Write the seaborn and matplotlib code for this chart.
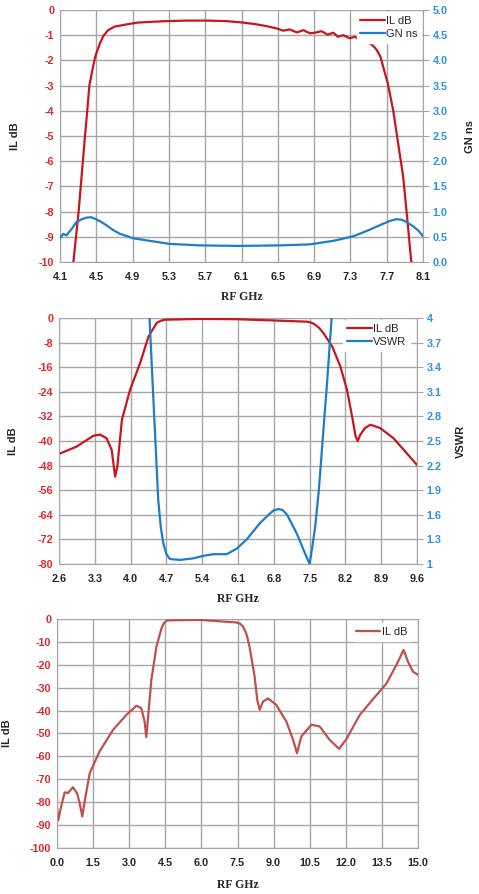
import numpy as np
import matplotlib
matplotlib.use('Agg')
import matplotlib.pyplot as plt
import seaborn as sns

# --- chart 1: insertion loss + group delay (4.1 - 8.1 GHz)
freq_il1 = [4.247, 4.276, 4.305, 4.34, 4.375, 4.40, 4.423, 4.45, 4.478, 4.50, 4.54, 4.577,
            4.63, 4.70, 4.834, 4.954, 5.10, 5.274, 5.50, 5.715, 5.935, 6.118, 6.25, 6.375,
            6.485, 6.56, 6.63, 6.71, 6.78, 6.85, 6.91, 6.98, 7.05, 7.11, 7.16, 7.22, 7.29,
            7.35, 7.38, 7.44, 7.51, 7.55, 7.59, 7.63, 7.66, 7.71, 7.77, 7.82, 7.88, 7.92, 7.97]
il1 = [-10.0, -9.0, -8.0, -6.5, -5.0, -4.0, -3.0, -2.5, -2.0, -1.72, -1.32, -1.03,
       -0.80, -0.66, -0.57, -0.50, -0.47, -0.44, -0.42, -0.42, -0.44, -0.50, -0.56, -0.64,
       -0.73, -0.82, -0.77, -0.89, -0.80, -0.92, -0.90, -0.84, -0.98, -0.90, -1.06, -1.00,
       -1.12, -1.06, -1.13, -1.22, -1.32, -1.42, -1.59, -1.85, -2.25, -2.9, -3.97, -5.17,
       -6.6, -8.08, -10.0]

freq_gd1 = [4.10, 4.137, 4.17, 4.23, 4.28, 4.34, 4.39, 4.44, 4.485, 4.55, 4.61, 4.68, 4.76,
            4.91, 5.09, 5.31, 5.64, 6.08, 6.52, 6.85, 7.11, 7.33, 7.51, 7.66, 7.74, 7.81,
            7.86, 7.90, 7.99, 8.05, 8.10]
gd1 = [0.48, 0.56, 0.53, 0.66, 0.79, 0.85, 0.88, 0.89, 0.86, 0.80, 0.73, 0.64, 0.56,
       0.47, 0.42, 0.36, 0.33, 0.32, 0.33, 0.35, 0.42, 0.51, 0.64, 0.76, 0.82, 0.85,
       0.84, 0.81, 0.71, 0.62, 0.51]

# --- chart 2: insertion loss + VSWR (2.6 - 9.6 GHz)
freq_il2 = [2.6, 2.946, 3.27, 3.40, 3.53, 3.63, 3.696, 3.74, 3.83, 3.99, 4.185, 4.35,
            4.51, 4.59, 4.674, 5.36, 6.077, 6.79, 7.45, 7.55, 7.61, 7.69, 7.77, 7.94,
            8.10, 8.23, 8.33, 8.40, 8.44, 8.49, 8.58, 8.69, 8.88, 9.14, 9.40, 9.60]
il2 = [-44.2, -41.8, -38.3, -37.9, -39.1, -42.9, -51.6, -48.3, -33.1, -23.3, -14.7, -6.0,
       -1.6, -0.9, -0.55, -0.3, -0.4, -0.8, -1.2, -1.6, -2.2, -3.3, -4.9, -9.2,
       -15.7, -23.3, -32.0, -38.5, -40.0, -38.0, -35.8, -34.7, -35.8, -39.1, -44.0, -47.8]

freq_vswr2 = [4.37, 4.446, 4.50, 4.54, 4.59, 4.64, 4.70, 4.77, 4.97, 5.23, 5.42, 5.62,
              5.88, 6.08, 6.27, 6.53, 6.73, 6.80, 6.89, 6.97, 7.06, 7.25, 7.41, 7.50,
              7.55, 7.61, 7.68, 7.74, 7.79, 7.84, 7.93]
vswr2 = [4.0, 3.0, 2.3, 1.78, 1.45, 1.25, 1.12, 1.06, 1.05, 1.07, 1.10, 1.12,
         1.12, 1.19, 1.30, 1.50, 1.62, 1.655, 1.67, 1.66, 1.60, 1.37, 1.13, 1.0,
         1.2, 1.46, 1.9, 2.39, 2.8, 3.2, 4.0]

# --- chart 3: wideband insertion loss (0 - 15 GHz)
freq_il3 = [0.0, 0.055, 0.14, 0.32, 0.46, 0.55, 0.66, 0.83, 0.94, 1.05, 1.16, 1.36,
            1.77, 2.33, 2.88, 3.30, 3.50, 3.64, 3.71, 3.81, 3.92, 4.13, 4.34, 4.44, 4.54,
            4.62, 5.93, 7.45, 7.60, 7.73, 7.87, 8.0, 8.21, 8.32, 8.42, 8.56, 8.77, 9.11,
            9.53, 9.81, 9.97, 10.15, 10.57, 10.91, 11.33, 11.72, 12.02, 12.58, 13.13,
            13.68, 14.1, 14.40, 14.58, 14.79, 15.0]
il3 = [-82.6, -87.9, -83.3, -75.7, -76.0, -74.9, -73.5, -76.0, -80.4, -86.2, -79.0, -67.3,
       -57.8, -48.4, -41.9, -37.9, -38.9, -44.8, -51.6, -39.7, -26.6, -12.1, -4.1, -1.8, -0.9,
       -0.6, -0.4, -1.5, -2.0, -3.3, -6.5, -12.1, -25.1, -35.3, -39.7, -36.0, -34.7, -37.5,
       -44.8, -52.8, -58.6, -51.3, -46.2, -46.9, -52.8, -56.7, -52.5, -41.9, -35.0,
       -28.3, -20.1, -13.5, -18.6, -23.0, -24.4]

RED = '#C8161D'
BLUE = '#1C7DCA'
RED3 = '#C0504D'
TICK_RED = '#E0282E'
TICK_BLUE = '#2F92DC'
GRID = '#A6A6A6'

sns.set_style('white')
plt.rcParams['font.family'] = ['Liberation Sans', 'DejaVu Sans']
plt.rcParams['axes.unicode_minus'] = False

fig = plt.figure(figsize=(4.79, 8.94), dpi=100)

LEG = dict(frameon=True, facecolor='white', edgecolor='white', framealpha=1,
           fontsize=8, handlelength=2.2, handletextpad=0.1, borderaxespad=0.15,
           borderpad=0.35, labelspacing=0.3)


def style_axes(ax, xticks, yticks, xlim, ylim, xfmt):
    ax.set_xlim(*xlim)
    ax.set_ylim(*ylim)
    ax.set_xticks(xticks)
    ax.set_xticklabels([xfmt.format(v) for v in xticks])
    ax.set_yticks(yticks)
    ax.grid(True, color=GRID, linewidth=1.0)
    for s in ax.spines.values():
        s.set_visible(False)
    ax.spines['left'].set_visible(True)
    ax.spines['left'].set_color(GRID)
    ax.spines['bottom'].set_visible(True)
    ax.spines['bottom'].set_color(GRID)
    ax.tick_params(axis='x', length=4, color=GRID, labelsize=7.8, pad=3)
    ax.tick_params(axis='y', length=0, labelsize=7.8, labelcolor=TICK_RED, pad=4)
    for t in ax.get_xticklabels() + ax.get_yticklabels():
        t.set_fontweight('bold')
    ax.set_xlabel('RF GHz', fontsize=8.5, fontweight='bold', family='Liberation Serif')
    ax.set_ylabel('IL dB', fontsize=8, fontweight='bold')


def style_right(ax2, yticks, ylim, labels, label):
    ax2.set_ylim(*ylim)
    ax2.set_yticks(yticks)
    ax2.set_yticklabels(labels)
    ax2.grid(False)
    for s in ax2.spines.values():
        s.set_visible(False)
    ax2.spines['right'].set_visible(True)
    ax2.spines['right'].set_color(GRID)
    ax2.tick_params(axis='y', length=4, color=GRID, labelsize=7.8,
                    labelcolor=TICK_BLUE, pad=3)
    for t in ax2.get_yticklabels():
        t.set_fontweight('bold')
    ax2.set_ylabel(label, fontsize=8, fontweight='bold', rotation=90)


# chart 1
ax1 = fig.add_axes([0.1253, 0.7069, 0.758, 0.2819])
sns.lineplot(x=freq_il1, y=il1, ax=ax1, color=RED, linewidth=1.6, legend=False)
style_axes(ax1, np.round(np.arange(4.1, 8.15, 0.4), 1), range(-10, 1), (4.1, 8.1), (-10, 0), '{:.1f}')
ax1b = ax1.twinx()
sns.lineplot(x=freq_gd1, y=gd1, ax=ax1b, color=BLUE, linewidth=1.6, legend=False)
gd_ticks = np.arange(0, 5.01, 0.5)
style_right(ax1b, gd_ticks, (0, 5), ['{:.1f}'.format(v) for v in gd_ticks], 'GN ns')
ax1.yaxis.set_label_coords(-0.11, 0.5)
ax1b.yaxis.set_label_coords(1.115, 0.5)
ax1.xaxis.set_label_coords(0.5, -0.115)
h = ax1.get_lines()[:1] + ax1b.get_lines()[:1]
ax1b.legend(h, ['IL dB', 'GN ns'], loc='upper right', bbox_to_anchor=(1.0, 1.0), **LEG)

# chart 2
ax2 = fig.add_axes([0.1232, 0.3691, 0.7474, 0.2752])
sns.lineplot(x=freq_il2, y=il2, ax=ax2, color=RED, linewidth=1.6, legend=False)
style_axes(ax2, np.round(np.arange(2.6, 9.65, 0.7), 1), range(-80, 1, 8), (2.6, 9.6), (-80, 0), '{:.1f}')
ax2b = ax2.twinx()
sns.lineplot(x=freq_vswr2, y=vswr2, ax=ax2b, color=BLUE, linewidth=1.6, legend=False)
vswr_ticks = np.round(np.arange(1.0, 4.01, 0.3), 1)
style_right(ax2b, vswr_ticks, (1, 4), ['{:g}'.format(v) for v in vswr_ticks], 'VSWR')
ax2.yaxis.set_label_coords(-0.115, 0.5)
ax2b.yaxis.set_label_coords(1.11, 0.5)
ax2.xaxis.set_label_coords(0.5, -0.118)
h = ax2.get_lines()[:1] + ax2b.get_lines()[:1]
ax2b.legend(h, ['IL dB', 'VSWR'], loc='upper right', bbox_to_anchor=(0.985, 1.0), **LEG)

# chart 3
ax3 = fig.add_axes([0.119, 0.0515, 0.7537, 0.2561])
sns.lineplot(x=freq_il3, y=il3, ax=ax3, color=RED3, linewidth=1.6, legend=False)
style_axes(ax3, np.round(np.arange(0, 15.05, 1.5), 1), range(-100, 1, 10), (0, 15), (-100, 0), '{:.1f}')
ax3.spines['right'].set_visible(True)
ax3.spines['right'].set_color(GRID)
ax3.yaxis.set_label_coords(-0.125, 0.5)
ax3.xaxis.set_label_coords(0.5, -0.136)
ax3.legend(ax3.get_lines()[:1], ['IL dB'], loc='upper right', bbox_to_anchor=(0.985, 0.99), **LEG)

fig.savefig('out.png', dpi=100)
